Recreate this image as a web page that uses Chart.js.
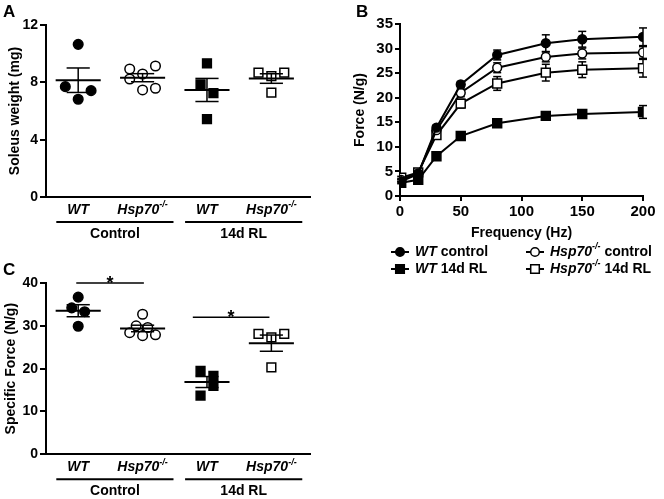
<!DOCTYPE html>
<html><head><meta charset="utf-8">
<script src="https://cdn.jsdelivr.net/npm/chart.js@4.4.1/dist/chart.umd.min.js"></script>
<style>
html,body{margin:0;padding:0;background:#fff;}
#wrap{position:relative;width:664px;height:499px;overflow:hidden;background:#fff;}
canvas{position:absolute;}
</style>
</head><body><div id="wrap">
<canvas id="cA" width="330" height="256" style="left:0;top:0"></canvas>
<canvas id="cB" width="334" height="285" style="left:330px;top:0"></canvas>
<canvas id="cC" width="330" height="243" style="left:0;top:256px"></canvas>
</div>
<script>
// ---------- DATA ----------
const genotypes = ['WT', 'Hsp70', 'WT', 'Hsp70'];
const koSuperscript = '-/-';
const conditions = ['Control', '14d RL'];

// Panel A: soleus weight (mg); swarm column index of each dot
const soleusWtCtrl = [10.65, 7.70, 7.42, 6.82];
const soleusWtCtrlCol = [0, -1, 1, 0];
const soleusHspCtrl = [9.14, 8.93, 8.58, 8.23, 7.59, 7.47];
const soleusHspCtrlCol = [1, -1, 0, -1, 1, 0];
const soleusWtRL = [9.33, 7.86, 7.24, 5.44];
const soleusWtRLCol = [0, -0.5, 0.5, 0];
const soleusHspRL = [8.67, 8.44, 8.67, 7.28];
const soleusHspRLCol = [-1, 0, 1, 0];
const soleusTicks = [0, 4, 8, 12];

// Panel B: force-frequency
const frequencies = [1, 15, 30, 50, 80, 120, 150, 200];
const forceWtCtrl = [3.0, 4.5, 13.9, 22.7, 28.7, 31.1, 31.9, 32.4];
const forceWtCtrlSem = [0.3, 0.3, 0.5, 0.6, 1.0, 1.7, 1.6, 1.8];
const forceHspCtrl = [3.3, 4.6, 13.4, 21.0, 26.1, 28.3, 29.0, 29.2];
const forceHspCtrlSem = [0.3, 0.3, 0.5, 0.8, 1.0, 1.0, 1.1, 1.2];
const forceHspRL = [3.7, 4.8, 12.4, 18.8, 22.9, 25.1, 25.7, 26.0];
const forceHspRLSem = [0.3, 0.3, 0.6, 0.9, 1.4, 1.7, 1.6, 1.8];
const forceWtRL = [2.7, 3.3, 8.1, 12.2, 14.8, 16.3, 16.7, 17.1];
const forceWtRLSem = [0.2, 0.2, 0.3, 0.4, 0.5, 0.6, 0.8, 1.3];
const forceTicks = [0, 5, 10, 15, 20, 25, 30, 35];
const freqTicks = [0, 50, 100, 150, 200];

// Panel C: specific force (N/g)
const sfWtCtrl = [36.7, 34.2, 33.3, 29.9];
const sfWtCtrlCol = [0, -0.5, 0.5, 0];
const sfHspCtrl = [32.7, 30.0, 29.6, 28.4, 27.7, 27.9];
const sfHspCtrlCol = [0, -0.5, 0.4, -1, 0, 1];
const sfWtRL = [19.5, 18.3, 16.0, 13.7];
const sfWtRLCol = [-0.5, 0.5, 0.5, -0.5];
const sfHspRL = [28.1, 27.3, 28.1, 20.3];
const sfHspRLCol = [-1, 0, 1, 0];
const sfTicks = [0, 10, 20, 30, 40];
const sfSignificance = [{from: 0.97, to: 2.02, level: 40}, {from: 2.78, to: 3.97, level: 32}];

// ---------- STYLE / HELPERS ----------
const FONT = "'Liberation Sans', Arial, Helvetica, sans-serif";
Chart.defaults.font.family = FONT;
Chart.defaults.color = '#000';

const mean = a => a.reduce((s, v) => s + v, 0) / a.length;
const sem = a => { const m = mean(a); return Math.sqrt(a.reduce((s, v) => s + (v - m) ** 2, 0) / (a.length - 1)) / Math.sqrt(a.length); };

function drawRich(ctx, parts, x, y, size, align) {
  const fonts = parts.map(p => `${p.italic ? 'italic ' : ''}bold ${p.sup ? Math.round(size * 0.62) : size}px ${FONT}`);
  let w = 0;
  const ws = parts.map((p, i) => { ctx.font = fonts[i]; const m = ctx.measureText(p.t).width; w += m; return m; });
  let cx = align === 'center' ? x - w / 2 : x;
  ctx.textBaseline = 'middle'; ctx.textAlign = 'left'; ctx.fillStyle = '#000';
  parts.forEach((p, i) => { ctx.font = fonts[i]; ctx.fillText(p.t, cx, p.sup ? y - size * 0.36 : y); cx += ws[i]; });
}
function genoParts(name, rest) {
  const parts = [{t: name, italic: true}];
  if (name !== 'WT') parts.push({t: koSuperscript, italic: true, sup: true});
  if (rest) parts.push({t: rest});
  return parts;
}
function line(ctx, x1, y1, x2, y2) { ctx.beginPath(); ctx.moveTo(x1, y1); ctx.lineTo(x2, y2); ctx.stroke(); }

const SLOT = 0.2;
const tickFont = {size: 14, weight: 'bold'};
const tickFontB = {size: 15, weight: 'bold'};
const titleFont = {size: 14, weight: 'bold'};

function makeDotPlot(id, letter, groups, ticks, titleText, sig) {
  const yMax = ticks[ticks.length - 1];
  const plugin = {
    id: 'dotDecor' + id,
    afterDatasetsDraw(chart) {
      const {ctx, scales: {x, y}} = chart;
      ctx.save(); ctx.strokeStyle = '#000';
      groups.forEach((g, i) => {
        const c = i + 1, m = mean(g.values), s = sem(g.values);
        ctx.lineWidth = 2;
        line(ctx, x.getPixelForValue(c - 0.35), y.getPixelForValue(m), x.getPixelForValue(c + 0.35), y.getPixelForValue(m));
        ctx.lineWidth = 1.5;
        line(ctx, x.getPixelForValue(c), y.getPixelForValue(m - s), x.getPixelForValue(c), y.getPixelForValue(m + s));
        [m - s, m + s].forEach(v => line(ctx, x.getPixelForValue(c - 0.18), y.getPixelForValue(v), x.getPixelForValue(c + 0.18), y.getPixelForValue(v)));
      });
      ctx.restore();
    },
    afterDraw(chart) {
      const {ctx, chartArea, scales: {x, y}} = chart;
      const b = chartArea.bottom;
      ctx.save();
      genotypes.forEach((gname, i) => drawRich(ctx, genoParts(gname), x.getPixelForValue(i + 1), b + 13, 14, 'center'));
      ctx.strokeStyle = '#000'; ctx.lineWidth = 2;
      conditions.forEach((cname, k) => {
        const x1 = x.getPixelForValue(2 * k + 1 - 0.34), x2 = x.getPixelForValue(2 * k + 2 + 0.48);
        line(ctx, x1, b + 25, x2, b + 25);
        drawRich(ctx, [{t: cname}], (x1 + x2) / 2, b + 37, 14, 'center');
      });
      if (sig) sig.forEach(s => {
        const yy = y.getPixelForValue(s.level);
        ctx.lineWidth = 1.5;
        line(ctx, x.getPixelForValue(s.from), yy, x.getPixelForValue(s.to), yy);
        ctx.font = `bold 18px ${FONT}`; ctx.textAlign = 'center'; ctx.textBaseline = 'alphabetic'; ctx.fillStyle = '#000';
        ctx.fillText('*', (x.getPixelForValue(s.from) + x.getPixelForValue(s.to)) / 2, yy + 5.5);
      });
      ctx.font = `bold 17px ${FONT}`; ctx.textAlign = 'left'; ctx.textBaseline = 'top'; ctx.fillStyle = '#000';
      ctx.fillText(letter, 3, letter === 'A' ? 4 : 6);
      ctx.restore();
    }
  };
  const datasets = groups.map((g, i) => ({
    data: g.values.map((v, k) => ({x: i + 1 + g.cols[k] * SLOT, y: v})),
    pointStyle: g.rect ? 'rect' : 'circle',
    pointRadius: g.rect ? 6.2 : 4.8,
    backgroundColor: g.filled ? '#000' : '#fff',
    borderColor: '#000', borderWidth: 1.5, showLine: false
  }));
  return new Chart(document.getElementById(id), {
    type: 'scatter',
    data: {datasets},
    plugins: [plugin],
    options: {
      responsive: false, animation: false, devicePixelRatio: 1,
      layout: {padding: {top: id === 'cA' ? 25 : 27, right: 20, left: 0, bottom: 0}},
      plugins: {legend: {display: false}, tooltip: {enabled: false}},
      scales: {
        x: {type: 'linear', min: 0.5, max: 4.6, ticks: {display: false}, grid: {display: false},
            border: {display: true, width: 2, color: '#000'},
            afterFit: s => { s.height = id === 'cA' ? 59 : 44.7; }},
        y: {min: 0, max: yMax, afterBuildTicks: s => { s.ticks = ticks.map(v => ({value: v})); },
            ticks: {font: tickFont, color: '#000', padding: 2},
            grid: {display: true, drawOnChartArea: false, drawTicks: true, tickLength: 6, color: '#000', lineWidth: 2},
            border: {display: true, width: 2, color: '#000'},
            title: {display: true, text: titleText, font: titleFont, color: '#000', padding: {top: id === 'cA' ? 7 : 3, bottom: 0}},
            afterFit: s => { s.width = 46; }}
      }
    }
  });
}

makeDotPlot('cA', 'A', [
  {values: soleusWtCtrl, cols: soleusWtCtrlCol, filled: true, rect: false},
  {values: soleusHspCtrl, cols: soleusHspCtrlCol, filled: false, rect: false},
  {values: soleusWtRL, cols: soleusWtRLCol, filled: true, rect: true},
  {values: soleusHspRL, cols: soleusHspRLCol, filled: false, rect: true}
], soleusTicks, 'Soleus weight (mg)', null);

makeDotPlot('cC', 'C', [
  {values: sfWtCtrl, cols: sfWtCtrlCol, filled: true, rect: false},
  {values: sfHspCtrl, cols: sfHspCtrlCol, filled: false, rect: false},
  {values: sfWtRL, cols: sfWtRLCol, filled: true, rect: true},
  {values: sfHspRL, cols: sfHspRLCol, filled: false, rect: true}
], sfTicks, 'Specific Force (N/g)', sfSignificance);

// ---------- Panel B ----------
const seriesB = [
  {name: ['WT', ' control'], values: forceWtCtrl, sem: forceWtCtrlSem, filled: true, rect: false},
  {name: ['WT', ' 14d RL'], values: forceWtRL, sem: forceWtRLSem, filled: true, rect: true},
  {name: ['Hsp70', ' control'], values: forceHspCtrl, sem: forceHspCtrlSem, filled: false, rect: false},
  {name: ['Hsp70', ' 14d RL'], values: forceHspRL, sem: forceHspRLSem, filled: false, rect: true}
];
const errPluginB = {
  id: 'errB',
  beforeDatasetsDraw(chart) {
    const {ctx, scales: {x, y}} = chart;
    ctx.save(); ctx.strokeStyle = '#000'; ctx.lineWidth = 1.5;
    seriesB.forEach(s => s.values.forEach((v, i) => {
      const px = x.getPixelForValue(frequencies[i]);
      const yt = y.getPixelForValue(v + s.sem[i]), yb = y.getPixelForValue(v - s.sem[i]);
      line(ctx, px, yt, px, yb);
      line(ctx, px - 4, yt, px + 4, yt);
      line(ctx, px - 4, yb, px + 4, yb);
    }));
    ctx.restore();
  },
  afterDraw(chart) {
    const {ctx} = chart;
    ctx.save();
    const legendPos = [[70, 252], [70, 269], [205, 252], [205, 269]];
    seriesB.forEach((s, i) => {
      const [mx, my] = legendPos[i];
      ctx.strokeStyle = '#000'; ctx.lineWidth = 2;
      line(ctx, mx - 9, my, mx + 9, my);
      ctx.lineWidth = 1.5; ctx.fillStyle = s.filled ? '#000' : '#fff';
      ctx.beginPath();
      if (s.rect) ctx.rect(mx - 4.3, my - 4.3, 8.6, 8.6); else ctx.arc(mx, my, 4.3, 0, Math.PI * 2);
      ctx.fill(); ctx.stroke();
      drawRich(ctx, genoParts(s.name[0], s.name[1]), mx + 15, my, 14, 'left');
    });
    ctx.font = `bold 17px ${FONT}`; ctx.textAlign = 'left'; ctx.textBaseline = 'top'; ctx.fillStyle = '#000';
    ctx.fillText('B', 26, 4);
    ctx.restore();
  }
};
new Chart(document.getElementById('cB'), {
  type: 'line',
  data: {datasets: seriesB.map(s => ({
    data: s.values.map((v, i) => ({x: frequencies[i], y: v})),
    borderColor: '#000', borderWidth: 2, tension: 0, fill: false,
    pointStyle: s.rect ? 'rect' : 'circle', pointRadius: s.rect ? 6.3 : 4.4,
    pointBackgroundColor: s.filled ? '#000' : '#fff', pointBorderColor: '#000', pointBorderWidth: 1.5
  }))},
  plugins: [errPluginB],
  options: {
    responsive: false, animation: false, devicePixelRatio: 1,
    layout: {padding: {top: 24, right: 21, left: 0, bottom: 0}},
    plugins: {legend: {display: false}, tooltip: {enabled: false}},
    scales: {
      x: {type: 'linear', min: 0, max: 200,
          afterBuildTicks: s => { s.ticks = freqTicks.map(v => ({value: v})); },
          ticks: {font: tickFontB, color: '#000', padding: 2, maxRotation: 0},
          grid: {display: true, drawOnChartArea: false, drawTicks: true, tickLength: 5, color: '#000', lineWidth: 2},
          border: {display: true, width: 2, color: '#000'},
          title: {display: true, text: 'Frequency (Hz)', font: titleFont, color: '#000', padding: {top: 0, bottom: 43.6}},
          afterFit: s => { s.height = 89; }},
      y: {min: 0, max: 35,
          afterBuildTicks: s => { s.ticks = forceTicks.map(v => ({value: v})); },
          ticks: {font: tickFontB, color: '#000', padding: 2},
          grid: {display: true, drawOnChartArea: false, drawTicks: true, tickLength: 5, color: '#000', lineWidth: 2},
          border: {display: true, width: 2, color: '#000'},
          title: {display: true, text: 'Force (N/g)', font: titleFont, color: '#000', padding: {top: 22, bottom: 0}},
          afterFit: s => { s.width = 70; }}
    }
  }
});
</script></body></html>
